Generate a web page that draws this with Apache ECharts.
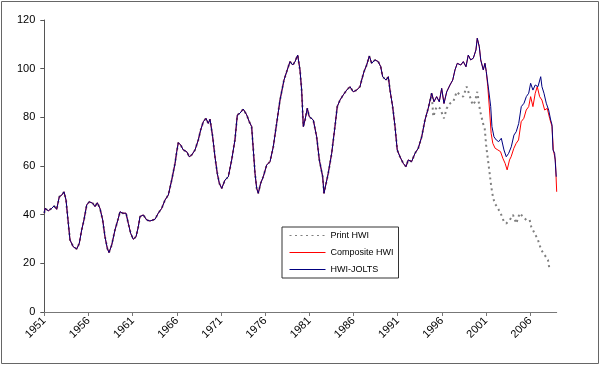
<!DOCTYPE html>
<html><head><meta charset="utf-8">
<script src="https://cdn.jsdelivr.net/npm/echarts@6/dist/echarts.min.js"></script>
<style>html,body{margin:0;padding:0;background:#fff}#c{width:600px;height:365px}</style>
</head><body><div id="c"></div><script>
// Shared history (all three series coincide), 1951 - 1994
const commonYears = [
 1951.00,1951.08,1951.45,1951.84,1952.10,1952.40,1952.70,1952.97,1953.23,1953.46,
 1953.72,1953.91,1954.28,1954.67,1954.96,1955.23,1955.49,1955.80,1956.09,1956.48,
 1956.74,1957.00,1957.30,1957.61,1957.87,1958.13,1958.32,1958.63,1959.00,1959.38,
 1959.57,1959.87,1960.25,1960.51,1960.78,1961.07,1961.38,1961.64,1961.83,1962.21,
 1962.59,1962.96,1963.53,1963.90,1964.29,1964.66,1965.04,1965.42,1965.80,1965.99,
 1966.17,1966.44,1966.73,1967.12,1967.41,1967.68,1968.06,1968.43,1968.70,1969.00,
 1969.30,1969.56,1969.76,1970.06,1970.32,1970.58,1970.81,1971.08,1971.45,1971.83,
 1972.21,1972.58,1972.85,1973.15,1973.52,1973.91,1974.20,1974.47,1974.66,1974.85,
 1975.04,1975.22,1975.49,1975.79,1976.17,1976.55,1976.92,1977.30,1977.68,1978.13,
 1978.44,1978.81,1979.12,1979.38,1979.68,1979.94,1980.13,1980.32,1980.51,1980.77,
 1980.99,1981.45,1981.83,1982.13,1982.51,1982.66,1983.14,1983.53,1983.90,1984.16,
 1984.47,1984.84,1985.23,1985.60,1985.97,1986.36,1986.73,1986.92,1987.19,1987.49,
 1987.79,1988.06,1988.43,1988.80,1989.08,1989.30,1989.68,1989.94,1990.13,1990.43,
 1990.70,1990.95,1991.26,1991.63,1991.94,1992.20,1992.58,1992.96,1993.33,1993.72,
 1994.09,1994.46,1994.85];
const commonVals = [
 40.6,42.6,41.6,42.6,43.6,42.2,47.4,48.0,49.4,46.0,
 36.4,29.6,26.8,25.9,28.2,33.7,37.8,44.0,45.3,44.7,
 43.3,44.9,42.6,37.8,30.9,26.2,24.4,27.5,33.7,38.5,
 41.2,40.6,40.6,36.4,32.3,29.9,30.9,35.0,39.2,39.9,
 37.8,37.4,38.1,40.6,42.6,46.0,48.1,54.2,61.1,65.9,
 69.6,68.6,66.6,65.9,63.8,64.5,66.6,70.7,74.8,78.2,
 79.6,77.5,79.2,72.0,63.8,57.0,52.9,50.8,54.2,55.6,
 62.5,70.7,81.0,81.7,83.4,81.0,78.2,76.2,66.6,57.0,
 50.8,48.8,52.9,55.6,60.4,61.8,67.9,77.5,87.1,95.3,
 98.8,102.9,101.5,102.9,105.6,99.5,91.2,76.2,78.9,83.7,
 80.3,78.9,72.0,62.5,55.6,48.8,57.0,65.2,76.2,84.4,
 87.1,89.2,91.2,92.6,90.5,91.2,92.6,95.3,98.8,101.5,
 105.2,102.2,103.6,102.9,100.8,96.7,95.3,96.7,91.2,84.4,
 76.2,66.6,63.8,61.1,59.7,62.5,61.8,65.2,67.3,72.0,
 78.9,83.7,89.9];

// Composite and HWI-JOLTS coincide 1995 - 2000
const sharedYears = [1995.11,1995.41,1995.71,1995.98,1996.24,1996.55,1996.92,1997.23,1997.49,1997.75,
 1998.14,1998.43,1998.73,1998.99,1999.26,1999.56,1999.86,2000.01,2000.24,2000.40,2000.69,2000.88,2001.03];
const sharedVals = [86.4,88.5,86.4,91.9,85.7,90.5,93.3,95.3,99.5,102.2,
 101.5,102.9,100.8,105.6,103.6,104.3,107.7,112.5,109.0,103.6,99.5,102.2,98.8];

// HWI-JOLTS after 2001
const joltsYears = [2001.30,2001.53,2001.67,2001.90,2002.16,2002.43,2002.73,2003.03,2003.29,2003.56,
 2003.86,2004.16,2004.42,2004.70,2004.99,2005.30,2005.56,2005.83,2006.05,2006.31,
 2006.57,2006.88,2007.19,2007.33,2007.56,2007.82,2008.09,2008.32,2008.47,2008.58,2008.77,2008.95];
const joltsVals = [91.2,84.4,76.2,72.0,70.7,70.0,71.4,66.6,63.8,65.2,
 67.9,72.7,74.1,77.5,84.4,85.8,88.5,89.9,94.0,91.2,
 93.3,92.6,96.7,92.6,89.9,85.8,83.0,78.9,76.9,66.6,65.2,55.6];

// Composite HWI after 2001
const compYears = [2001.20,2001.40,2001.58,2001.77,2002.03,2002.34,2002.64,2002.90,2003.16,2003.39,
 2003.66,2003.84,2004.15,2004.41,2004.68,2004.98,2005.28,2005.55,2005.83,2006.05,
 2006.31,2006.57,2006.80,2007.07,2007.33,2007.64,2007.93,2008.20,2008.47,2008.62,2008.85,2009.00];
const compVals = [92.6,83.0,73.4,69.3,67.3,66.6,65.9,63.2,61.1,58.4,
 62.5,63.8,67.3,69.3,70.7,78.2,79.6,83.0,84.4,88.5,
 84.4,89.9,92.6,88.5,87.1,83.0,83.7,79.6,76.2,66.6,62.5,49.4];

// Print HWI after 1995
const printYears = [1995.03,1995.41,1995.79,1996.24,1996.55,1996.92,1997.29,1997.68,1998.05,1998.42,
 1998.81,1999.18,1999.49,1999.75,2000.01,2000.31,2000.46,2000.66,2000.85,2001.03,
 2001.22,2001.41,2001.59,2001.78,2001.98,2002.35,2002.73,2003.03,2003.29,2003.68,
 2004.05,2004.42,2004.81,2005.18,2005.56,2005.94,2006.12,2006.51,2006.88,2007.25,
 2007.64,2008.01,2008.20];
const printVals = [80.3,84.4,83.7,79.6,83.7,85.7,86.4,90.5,89.2,88.5,
 92.6,88.5,85.1,86.4,90.5,83.0,83.0,77.5,75.5,67.9,
 62.5,57.0,51.5,47.4,44.7,42.6,39.9,37.1,36.4,37.8,
 39.9,36.4,40.6,39.2,37.8,37.8,35.0,32.3,29.6,25.5,
 23.4,21.4,17.3];

const tickYears = [1951,1956,1961,1966,1971,1976,1981,1986,1991,1996,2001,2006];
const seriesNames = ['Print HWI','Composite HWI','HWI-JOLTS'];
const seriesColors = ['#7f7f7f','#ff0000','#000080'];

function pairs(ys, vs){ return ys.map((y,i)=>[y, vs[i]]); }
const common = pairs(commonYears, commonVals);
const shared = pairs(sharedYears, sharedVals);
const printData = common.concat(pairs(printYears, printVals));
const compData = common.concat(shared, pairs(compYears, compVals));
const joltsData = common.concat(shared, pairs(joltsYears, joltsVals));

const FONT = 'Liberation Sans, Arial, sans-serif';
const chart = echarts.init(document.getElementById('c'));
chart.setOption({
  animation: false,
  backgroundColor: '#fff',
  textStyle: {fontFamily: FONT},
  grid: {left: 44.3, right: 43.3, top: 20, bottom: 53},
  xAxis: {
    type: 'value', min: 1951, max: 2009,
    axisLine: {show: true, lineStyle: {color: '#777', width: 1}},
    axisTick: {show: true, length: 4, customValues: tickYears, lineStyle: {color: '#777'}},
    axisLabel: {customValues: tickYears, rotate: 45, fontSize: 11, color: '#000', fontFamily: FONT, margin: 7,
      formatter: v => String(v)},
    splitLine: {show: false}
  },
  yAxis: {
    type: 'value', min: 0, max: 120, interval: 20,
    axisLine: {show: true, lineStyle: {color: '#555', width: 1}},
    axisTick: {show: true, length: 4, lineStyle: {color: '#555'}},
    axisLabel: {fontSize: 11, color: '#000', fontFamily: FONT, margin: 9},
    splitLine: {show: false}
  },
  legend: {
    data: seriesNames,
    orient: 'vertical', left: 282, top: 227,
    itemWidth: 36, itemHeight: 9, itemGap: 8,
    padding: [4, 5, 4, 7],
    borderColor: '#333', borderWidth: 1, backgroundColor: '#fff',
    itemStyle: {opacity: 0},
    lineStyle: {width: 1},
    textStyle: {fontSize: 9, color: '#000', fontFamily: FONT}
  },
  series: [
    {name: seriesNames[0], type: 'line', data: printData, symbol: 'none', showSymbol: false,
     lineStyle: {color: seriesColors[0], width: 2, type: [2, 3.5]}, itemStyle: {color: seriesColors[0]}},
    {name: seriesNames[1], type: 'line', data: compData, symbol: 'none', showSymbol: false,
     lineStyle: {color: seriesColors[1], width: 1}, itemStyle: {color: seriesColors[1]}},
    {name: seriesNames[2], type: 'line', data: joltsData, symbol: 'none', showSymbol: false,
     lineStyle: {color: seriesColors[2], width: 1}, itemStyle: {color: seriesColors[2]}}
  ],
  graphic: [{type: 'rect', silent: true, z: 100,
    shape: {x: 1.5, y: 1.5, width: 597, height: 362},
    style: {fill: 'none', stroke: '#666', lineWidth: 1}}]
});
</script></body></html>
